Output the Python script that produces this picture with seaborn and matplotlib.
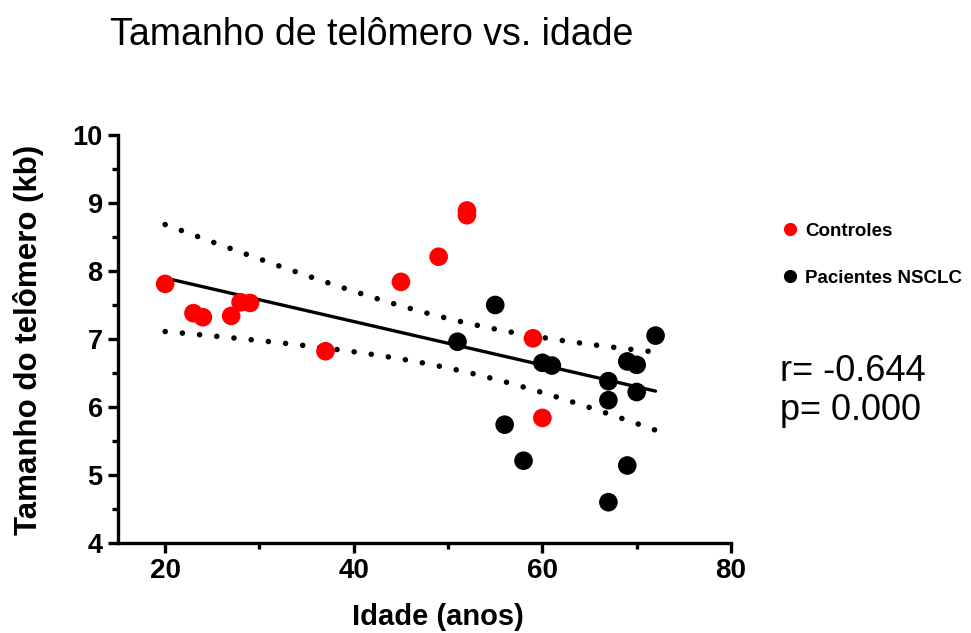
import numpy as np
import pandas as pd
import matplotlib
matplotlib.use("Agg")
import matplotlib.pyplot as plt
from matplotlib.lines import Line2D
from matplotlib.ticker import MultipleLocator
import seaborn as sns

# ---- data ----
ctrl_age = [20, 23, 24, 27, 28, 29, 37, 45, 49, 52, 52, 59, 60]
ctrl_tl = [7.81, 7.38, 7.32, 7.34, 7.54, 7.53, 6.82, 7.84, 8.21, 8.89, 8.82, 7.01, 5.84]
pac_age = [51, 55, 56, 58, 60, 61, 67, 67, 67, 69, 69, 70, 70, 72]
pac_tl = [6.96, 7.50, 5.74, 5.21, 6.65, 6.61, 6.38, 6.10, 4.60, 6.67, 5.14, 6.62, 6.22, 7.05]
groups = ["Controles", "Pacientes NSCLC"]
colors = ["#ff0000", "#000000"]
x_ticks = [20, 40, 60, 80]
y_ticks = [4, 5, 6, 7, 8, 9, 10]
title = "Tamanho de telômero vs. idade"
xlabel = "Idade (anos)"
ylabel = "Tamanho do telômero (kb)"
stats_text = "r= -0.644\np= 0.000"

sns.set_style("ticks")
plt.rcParams["font.family"] = ["Liberation Sans", "DejaVu Sans"]
plt.rcParams.update({"text.color": "black", "axes.labelcolor": "black",
                     "xtick.color": "black", "ytick.color": "black",
                     "axes.edgecolor": "black"})

df = pd.DataFrame({
    "Idade": ctrl_age + pac_age,
    "TL": ctrl_tl + pac_tl,
    "Grupo": [groups[0]] * len(ctrl_age) + [groups[1]] * len(pac_age),
})

fig = plt.figure(figsize=(9.71, 6.33), dpi=100)
ax = fig.add_axes([118 / 971, 1 - 543 / 633, (731 - 118) / 971, (543 - 135) / 633])

# regression line and 95% confidence band of the mean
x = df["Idade"].to_numpy(float)
y = df["TL"].to_numpy(float)
n = len(x)
b, a = np.polyfit(x, y, 1)
xs = np.linspace(x.min(), x.max(), 200)
ys = a + b * xs
resid = y - (a + b * x)
s = np.sqrt(np.sum(resid ** 2) / (n - 2))
t_crit = 2.06
se = s * np.sqrt(1 / n + (xs - x.mean()) ** 2 / np.sum((x - x.mean()) ** 2))

ax.plot(xs, ys, color="black", lw=2.4, zorder=2)
for sign in (1, -1):
    ax.plot(xs, ys + sign * t_crit * se, color="black", lw=4.0,
            linestyle=(0, (0.01, 3.1)), dash_capstyle="round", zorder=2)

sns.scatterplot(data=df, x="Idade", y="TL", hue="Grupo", hue_order=groups,
                palette=dict(zip(groups, colors)), s=180, edgecolor="none",
                linewidth=0, legend=False, ax=ax, zorder=3)

ax.set_xlim(15, 80)
ax.set_ylim(4, 10)
ax.set_xticks(x_ticks)
ax.set_yticks(y_ticks)
ax.xaxis.set_minor_locator(MultipleLocator(10))
ax.yaxis.set_minor_locator(MultipleLocator(0.5))
ax.set_xlabel("")
ax.set_ylabel("")
for side in ("top", "right"):
    ax.spines[side].set_visible(False)
for side in ("left", "bottom"):
    ax.spines[side].set_linewidth(2.4)
ax.tick_params(which="major", width=2.4, length=7, color="black")
ax.tick_params(which="minor", width=2.4, length=4.5, color="black")
ax.tick_params(axis="x", which="major", labelsize=20, pad=4)
ax.tick_params(axis="y", which="major", labelsize=19.5, pad=4)
for lab in ax.get_xticklabels() + ax.get_yticklabels():
    lab.set_fontweight("bold")

fig.text(372 / 971, 1 - 35 / 633, title, ha="center", va="center", fontsize=27)
fig.text(438 / 971, 1 - 625 / 633, xlabel, ha="center", va="baseline",
         fontsize=21, fontweight="bold")
fig.text(29 / 971, 1 - 340 / 633, ylabel, ha="center", va="center",
         rotation=90, fontsize=22.5, fontweight="bold")

handles = [Line2D([], [], marker="o", linestyle="none", markersize=9.5,
                  markerfacecolor=c, markeredgecolor="none") for c in colors]
fig.legend(handles, groups, loc="upper left",
           bbox_to_anchor=(773 / 971, 1 - 215 / 633), frameon=False,
           prop={"weight": "bold", "size": 13.5}, handletextpad=0.3,
           handlelength=1.0, labelspacing=1.6, borderaxespad=0)

fig.text(780 / 971, 1 - 391 / 633, stats_text, ha="left", va="center",
         fontsize=26, linespacing=1.12)

fig.savefig("out.png", dpi=100)
